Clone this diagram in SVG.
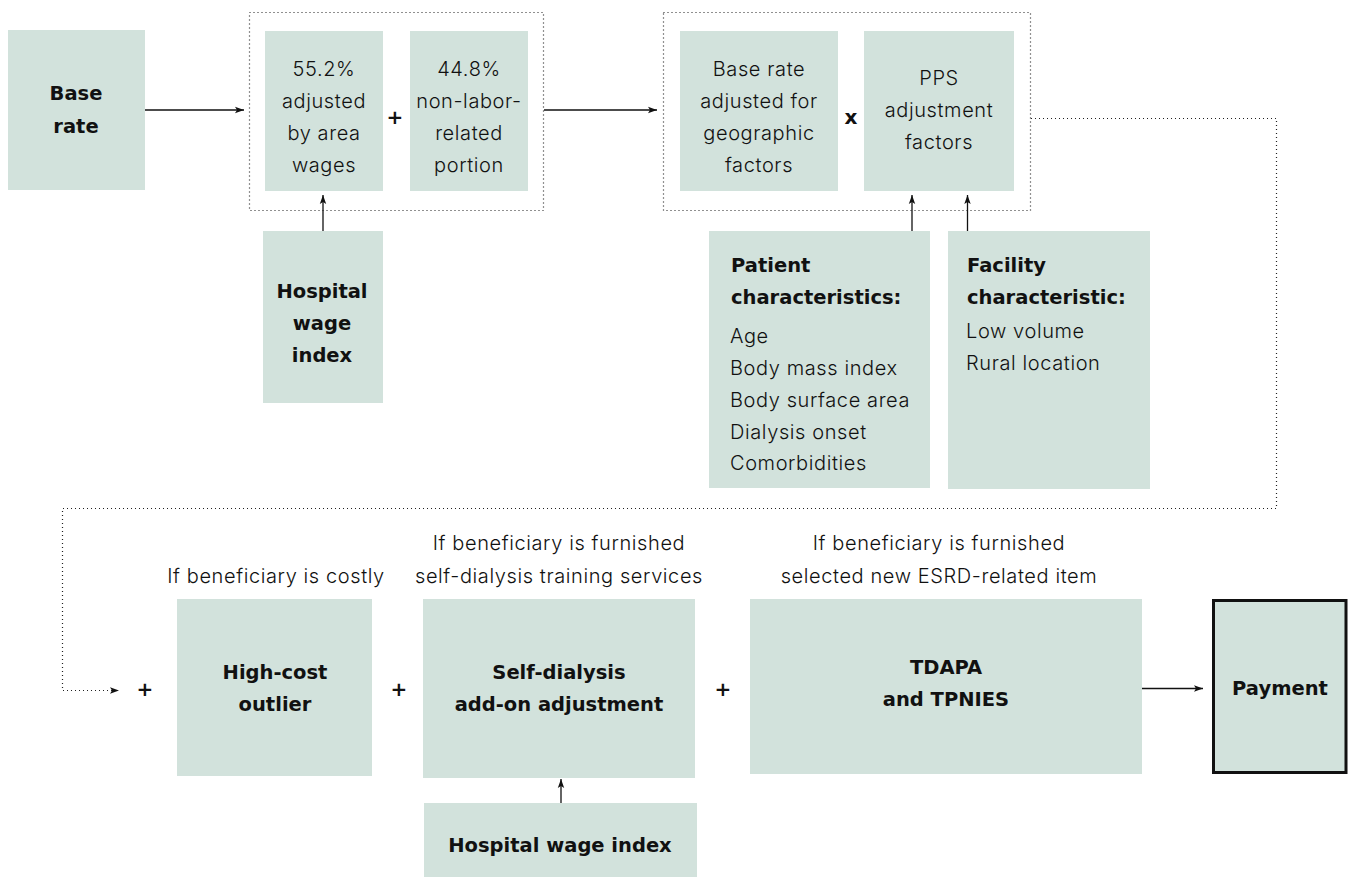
<svg xmlns="http://www.w3.org/2000/svg" width="1348" height="877" viewBox="0 0 1348 877">
<defs>
<marker id="ah" markerUnits="userSpaceOnUse" markerWidth="10" markerHeight="8" refX="9" refY="4" orient="auto">
<path d="M0,0.8 L9,4 L0,7.2 L2,4 Z" fill="#111"/>
</marker>
</defs>
<style>
.box{fill:#d2e2dc}
.dot{fill:none;stroke:#222;stroke-width:1.2;stroke-dasharray:1 3}
.ln{fill:none;stroke:#111;stroke-width:1.3}
text{font-family:Inter,"Open Sans","Noto Sans",sans-serif;font-size:20px;fill:#111}
.c{text-anchor:middle}
.r{font-weight:300;letter-spacing:0.6px}
.b{font-family:"DejaVu Sans","Liberation Sans",sans-serif;font-weight:700;font-size:19.5px}
.op{font-family:"DejaVu Sans","Liberation Sans",sans-serif;font-weight:700;font-size:20px}
</style>
<rect width="1348" height="877" fill="#fff"/>

<g id="frames">
<rect class="dot" x="249.5" y="12.5" width="294" height="198"/>
<rect class="dot" x="663.5" y="12.5" width="367" height="198"/>
</g>

<g id="base-rate">
<rect class="box" x="8" y="30" width="137" height="160"/>
<text class="c b" x="76" y="100">Base</text>
<text class="c b" x="76" y="133">rate</text>
</g>

<g id="labor">
<rect class="box" x="265" y="31" width="118" height="160"/>
<text class="c r" x="324" y="76">55.2%</text>
<text class="c r" x="324" y="108">adjusted</text>
<text class="c r" x="324" y="140">by area</text>
<text class="c r" x="324" y="172">wages</text>
</g>

<g id="plus1"><text class="c op" x="395" y="124">+</text></g>

<g id="nonlabor">
<rect class="box" x="410" y="31" width="118" height="160"/>
<text class="c r" x="469" y="76">44.8%</text>
<text class="c r" x="469" y="108">non-labor-</text>
<text class="c r" x="469" y="140">related</text>
<text class="c r" x="469" y="172">portion</text>
</g>

<g id="hwi-top">
<rect class="box" x="263" y="231" width="120" height="172"/>
<text class="c b" x="322" y="298">Hospital</text>
<text class="c b" x="322" y="330">wage</text>
<text class="c b" x="322" y="362">index</text>
</g>

<g id="geo">
<rect class="box" x="680" y="31" width="158" height="160"/>
<text class="c r" x="759" y="76">Base rate</text>
<text class="c r" x="759" y="108">adjusted for</text>
<text class="c r" x="759" y="140">geographic</text>
<text class="c r" x="759" y="172">factors</text>
</g>

<g id="times"><text class="c op" x="851" y="124">x</text></g>

<g id="pps">
<rect class="box" x="864" y="31" width="150" height="160"/>
<text class="c r" x="939" y="85">PPS</text>
<text class="c r" x="939" y="117">adjustment</text>
<text class="c r" x="939" y="149">factors</text>
</g>

<g id="patient">
<rect class="box" x="709" y="231" width="221" height="257"/>
<text class="b" x="731" y="272">Patient</text>
<text class="b" x="731" y="304">characteristics:</text>
<text class="r" x="730" y="343">Age</text>
<text class="r" x="730" y="375">Body mass index</text>
<text class="r" x="730" y="407">Body surface area</text>
<text class="r" x="730" y="439">Dialysis onset</text>
<text class="r" x="730" y="470">Comorbidities</text>
</g>

<g id="facility">
<rect class="box" x="948" y="231" width="202" height="258"/>
<text class="b" x="967" y="272">Facility</text>
<text class="b" x="967" y="304">characteristic:</text>
<text class="r" x="966" y="338">Low volume</text>
<text class="r" x="966" y="370">Rural location</text>
</g>

<g id="plus2"><text class="c op" x="145" y="696">+</text></g>

<g id="outlier">
<text class="c r" x="276" y="583">If beneficiary is costly</text>
<rect class="box" x="177" y="599" width="195" height="177"/>
<text class="c b" x="275" y="679">High-cost</text>
<text class="c b" x="275" y="711">outlier</text>
</g>

<g id="plus3"><text class="c op" x="399" y="696">+</text></g>

<g id="selfdialysis">
<text class="c r" x="559" y="550">If beneficiary is furnished</text>
<text class="c r" x="559" y="583">self-dialysis training services</text>
<rect class="box" x="423" y="599" width="272" height="179"/>
<text class="c b" x="559" y="679">Self-dialysis</text>
<text class="c b" x="559" y="711">add-on adjustment</text>
</g>

<g id="hwi-bottom">
<rect class="box" x="424" y="803" width="273" height="74"/>
<text class="c b" x="560" y="852">Hospital wage index</text>
</g>

<g id="plus4"><text class="c op" x="723" y="696">+</text></g>

<g id="tdapa">
<text class="c r" x="939" y="550">If beneficiary is furnished</text>
<text class="c r" x="939" y="583">selected new ESRD-related item</text>
<rect class="box" x="750" y="599" width="392" height="175"/>
<text class="c b" x="946" y="674">TDAPA</text>
<text class="c b" x="946" y="706">and TPNIES</text>
</g>

<g id="payment">
<rect class="box" x="1213.5" y="600.5" width="132.5" height="172" stroke="#111" stroke-width="3"/>
<text class="c b" x="1280" y="695">Payment</text>
</g>

<g id="connectors">
<line class="ln" x1="145" y1="110" x2="244" y2="110" marker-end="url(#ah)"/>
<line class="ln" x1="544" y1="110" x2="657" y2="110" marker-end="url(#ah)"/>
<line class="ln" x1="323" y1="231" x2="323" y2="195" marker-end="url(#ah)"/>
<line class="ln" x1="912" y1="231" x2="912" y2="195" marker-end="url(#ah)"/>
<line class="ln" x1="967.5" y1="231" x2="967.5" y2="195" marker-end="url(#ah)"/>
<line class="ln" x1="561" y1="803" x2="561" y2="779" marker-end="url(#ah)"/>
<line class="ln" x1="1142" y1="688.5" x2="1203" y2="688.5" marker-end="url(#ah)"/>
<path class="dot" d="M1031,118.5 H1276.5 V508.5 H62.5 V690.5 H119" marker-end="url(#ah)"/>
</g>
</svg>
